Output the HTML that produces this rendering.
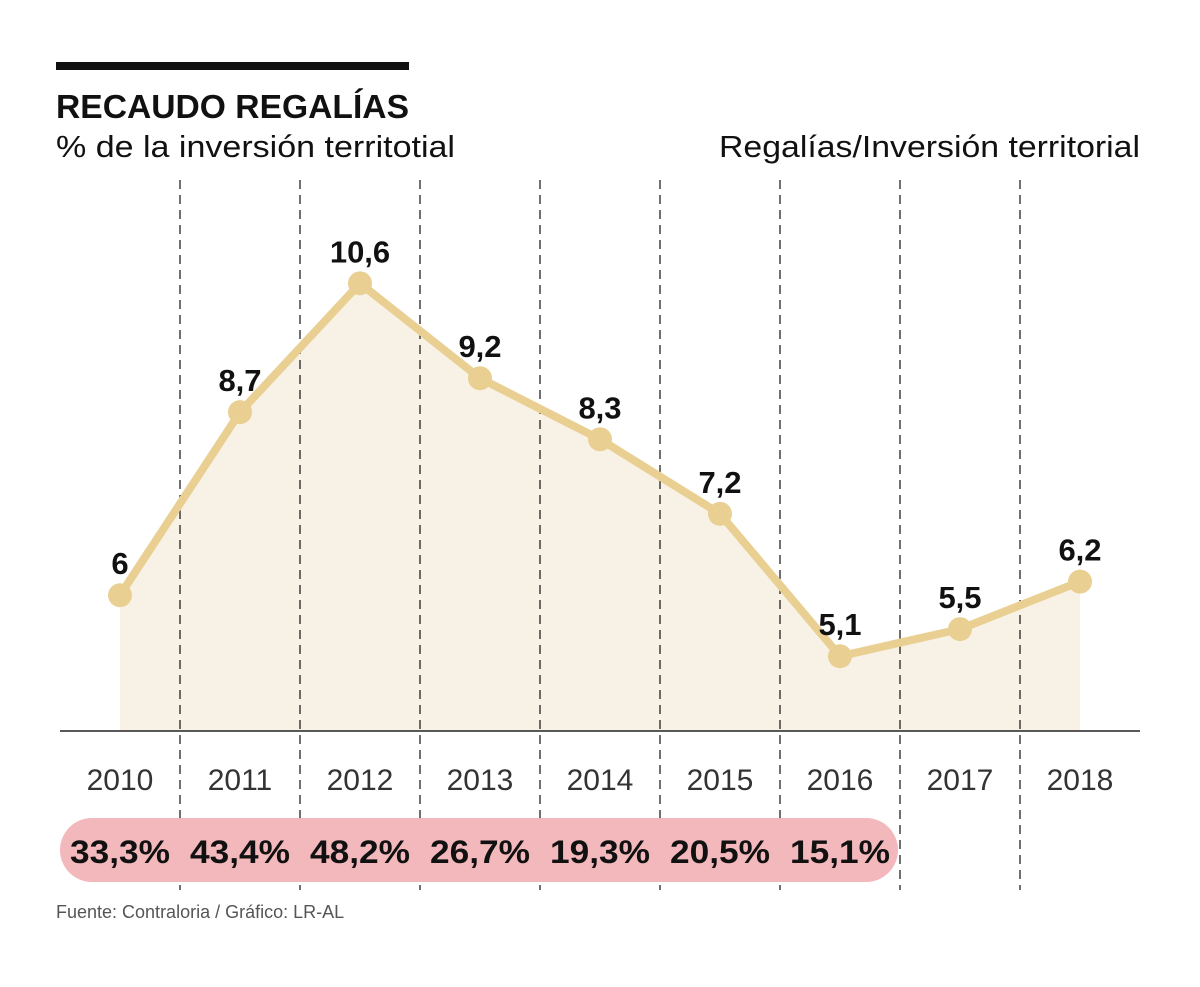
<!DOCTYPE html>
<html><head><meta charset="utf-8"><style>
body{margin:0;background:#fff;}
svg{display:block;font-family:"Liberation Sans",sans-serif;}
</style></head><body>
<svg id="chart" width="1200" height="987" viewBox="0 0 1200 987">
<rect x="56" y="62" width="353" height="8" fill="#111"/>
<text x="56" y="118" font-size="33" font-weight="bold" fill="#111" textLength="353" lengthAdjust="spacingAndGlyphs">RECAUDO REGALÍAS</text>
<text x="56" y="157" font-size="31" fill="#111" textLength="399" lengthAdjust="spacingAndGlyphs">% de la inversión territotial</text>
<text x="1140" y="157" font-size="31" fill="#111" text-anchor="end" textLength="421" lengthAdjust="spacingAndGlyphs">Regalías/Inversión territorial</text>
<path id="area" fill="#f8f2e6"/>
<g id="grid"></g>
<line x1="60" x2="1140" y1="731" y2="731" stroke="#222" stroke-width="1.5"/>
<path id="line" fill="none" stroke="#e9cf92" stroke-width="8" stroke-linejoin="round"/>
<g id="marks"></g>
<rect x="60" y="818" width="838" height="64" rx="32" fill="#f2b8bb"/>
<g id="labels"></g>
<text x="56" y="918" font-size="18" fill="#555">Fuente: Contraloria / Gráfico: LR-AL</text>
</svg>
<script>
const years=["2010","2011","2012","2013","2014","2015","2016","2017","2018"];
const values=[6,8.7,10.6,9.2,8.3,7.2,5.1,5.5,6.2];
const valueLabels=["6","8,7","10,6","9,2","8,3","7,2","5,1","5,5","6,2"];
const shares=["33,3%","43,4%","48,2%","26,7%","19,3%","20,5%","15,1%"];
const NS="http://www.w3.org/2000/svg";
const xs=i=>120+120*i;
const ys=v=>1002-67.8*v;
function mk(t,a,p){const e=document.createElementNS(NS,t);for(const k in a)e.setAttribute(k,a[k]);document.getElementById(p).appendChild(e);return e;}
for(let i=0;i<years.length-1;i++){
 const l=mk('line',{x1:xs(i)+60,x2:xs(i)+60,y1:180,y2:890,stroke:'#111','stroke-width':1.2,'stroke-dasharray':'9,6'},'grid');
 
 
}
let d='',a='M'+xs(0)+',731';
values.forEach((v,i)=>{d+=(i?'L':'M')+xs(i)+','+ys(v);a+='L'+xs(i)+','+ys(v);});
a+='L'+xs(values.length-1)+',731Z';
document.getElementById('line').setAttribute('d',d);
document.getElementById('area').setAttribute('d',a);
values.forEach((v,i)=>{
 const c=mk('circle',{cx:xs(i),cy:ys(v),r:12,fill:'#e9cf92'},'marks');
 
 
 const t=mk('text',{x:xs(i),y:ys(v)-21,'font-size':31,'font-weight':'bold','text-anchor':'middle',fill:'#111'},'labels');
 t.textContent=valueLabels[i];
 
 
 const y=mk('text',{x:xs(i),y:790,'font-size':30,'text-anchor':'middle',fill:'#333'},'labels');
 y.textContent=years[i];
 
 
});
shares.forEach((s,i)=>{
 const t=mk('text',{x:xs(i),y:863,'font-size':32,'font-weight':'bold','text-anchor':'middle',fill:'#111',textLength:100,lengthAdjust:'spacingAndGlyphs'},'labels');
 t.textContent=s;
 
 
});
</script>
</body></html>
